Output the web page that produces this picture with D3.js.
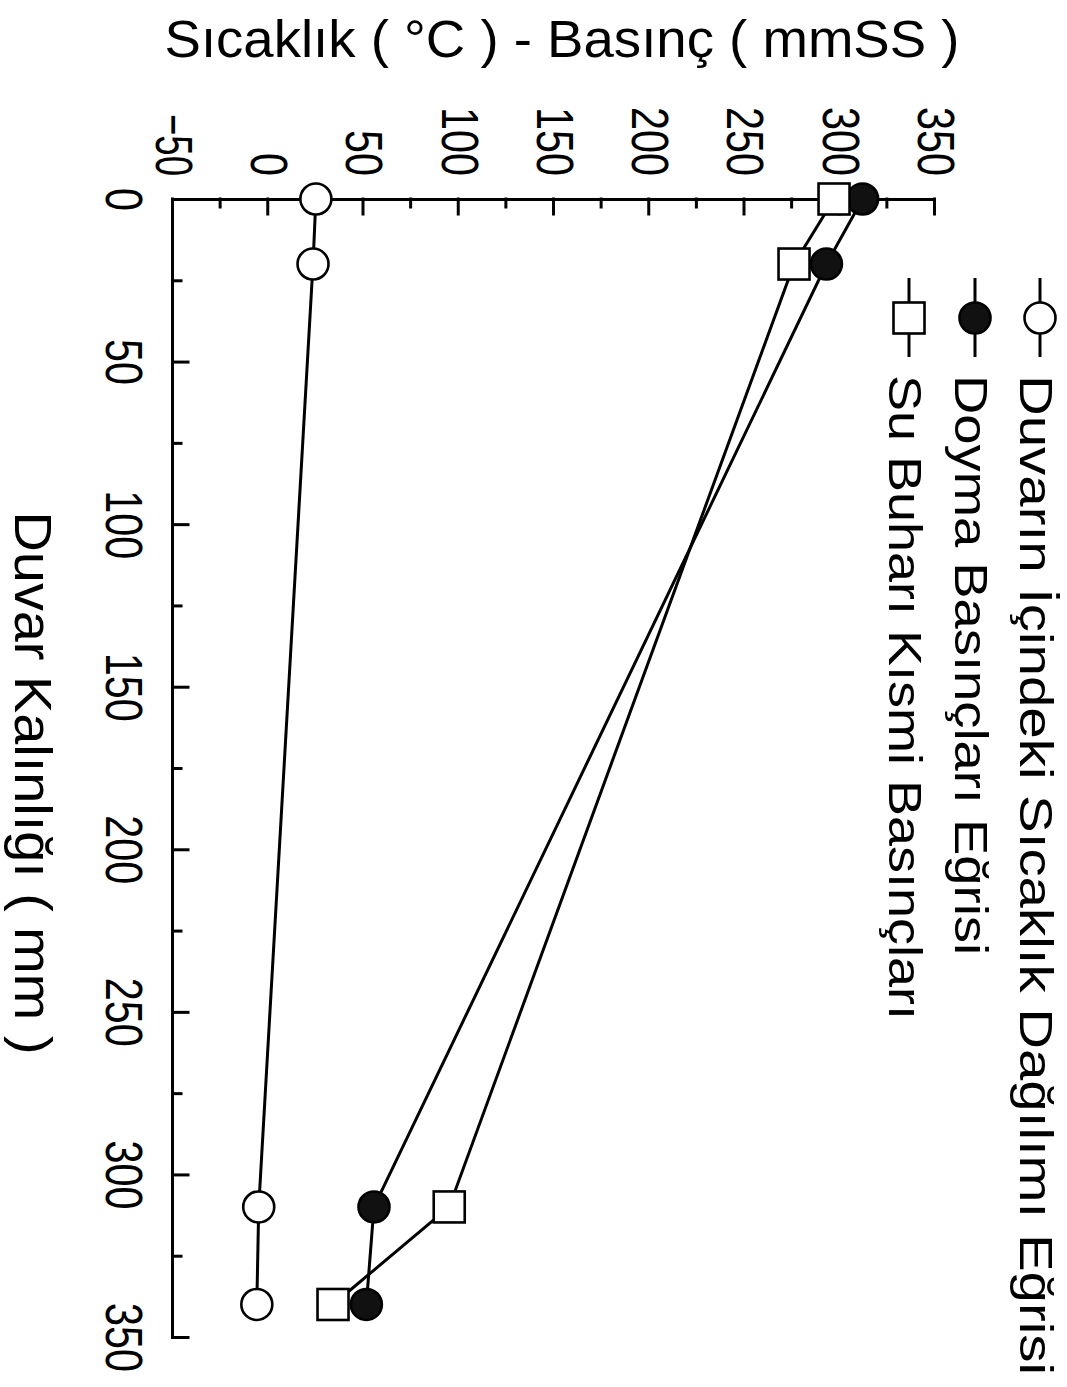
<!DOCTYPE html>
<html>
<head>
<meta charset="utf-8">
<script src="https://cdn.jsdelivr.net/npm/d3@7"></script>
<style>
  html, body { margin: 0; padding: 0; background: #fff; }
  svg { display: block; }
</style>
</head>
<body>
<script>
// wall thickness (mm) where the values were measured
const thickness = [0, 20, 310, 340];

// series values (°C for temperature, mmSS for pressures)
const wallTemp = [25, 23.5, -5, -6];
const satPressure = [312, 293, 55.5, 51.5];
const vaporPressure = [297, 276, 95, 34];

const seriesNames = [
  "Duvarın İçindeki Sıcaklık Dağılımı Eğrisi",
  "Doyma Basınçları Eğrisi",
  "Su Buharı Kısmi Basınçları"
];

// tick labels
const xMajor = [0, 50, 100, 150, 200, 250, 300, 350];
const xMinor = [25, 75, 125, 175, 225, 275, 325];
const yMajor = [-50, 0, 50, 100, 150, 200, 250, 300, 350];
const yMinor = [-25, 25, 75, 125, 175, 225, 275, 325];

const xTitle = "Duvar Kalınlığı ( mm )";
const yTitle = "Sıcaklık ( °C ) - Basınç ( mmSS )";

const width = 1067;
const height = 1387;
const font = "'Liberation Sans', Arial, Helvetica, sans-serif";

const svg = d3.select("body")
  .append("svg")
  .attr("width", width)
  .attr("height", height);

// the whole chart is printed turned a quarter turn clockwise
const g = svg.append("g")
  .attr("transform", `translate(${width},0) rotate(90)`)
  .attr("font-family", font);

const x = d3.scaleLinear().domain([0, 350]).range([199, 1337]);
const y = d3.scaleLinear().domain([-50, 350]).range([894, 132]);

const labelWidth = d => String(d).replace("-", "").length * 23 + (d < 0 ? 16 : 0);

// x axis (thickness)
const gx = g.append("g")
  .attr("transform", `translate(0,${y(-50)})`)
  .call(d3.axisBottom(x).tickValues(xMajor).tickSizeInner(-15).tickSizeOuter(0).tickPadding(30));

g.append("g")
  .attr("transform", `translate(0,${y(-50)})`)
  .call(d3.axisBottom(x).tickValues(xMinor).tickSize(-8).tickFormat(""))
  .call(a => a.select(".domain").remove());

// y axis (temperature / pressure)
const gy = g.append("g")
  .attr("transform", `translate(${x(0)},0)`)
  .call(d3.axisLeft(y).tickValues(yMajor).tickSizeInner(-15).tickSizeOuter(0).tickPadding(23));

g.append("g")
  .attr("transform", `translate(${x(0)},0)`)
  .call(d3.axisLeft(y).tickValues(yMinor).tickSize(-8).tickFormat(""))
  .call(a => a.select(".domain").remove());

g.selectAll(".domain, .tick line")
  .attr("stroke", "#000")
  .attr("stroke-width", 3)
  .attr("stroke-linecap", "square");

[gx, gy].forEach(ax => {
  ax.selectAll(".tick text")
    .attr("font-family", font)
    .attr("font-size", 52)
    .attr("fill", "#000")
    .attr("textLength", d => labelWidth(d))
    .attr("lengthAdjust", "spacingAndGlyphs");
});

// axis titles
g.append("text")
  .attr("x", 783)
  .attr("y", 1052)
  .attr("text-anchor", "middle")
  .attr("font-size", 51)
  .attr("textLength", 543)
  .attr("lengthAdjust", "spacingAndGlyphs")
  .text(xTitle);

g.append("text")
  .attr("transform", `translate(57,${1067 - 562})rotate(-90)`)
  .attr("text-anchor", "middle")
  .attr("font-size", 51)
  .attr("textLength", 795)
  .attr("lengthAdjust", "spacingAndGlyphs")
  .text(yTitle);

// series
const series = [
  { name: seriesNames[0], values: wallTemp, symbol: "circle", fill: "#fff" },
  { name: seriesNames[1], values: satPressure, symbol: "circle", fill: "#111" },
  { name: seriesNames[2], values: vaporPressure, symbol: "square", fill: "#fff" }
];

const line = d3.line()
  .x(d => x(d.t))
  .y(d => y(d.v));

function drawMarker(sel, s) {
  if (s.symbol === "circle") {
    sel.append("circle")
      .attr("r", 15.5)
      .attr("fill", s.fill)
      .attr("stroke", "#000")
      .attr("stroke-width", 2.6);
  } else {
    sel.append("rect")
      .attr("x", -15.5)
      .attr("y", -15.5)
      .attr("width", 31)
      .attr("height", 31)
      .attr("fill", s.fill)
      .attr("stroke", "#000")
      .attr("stroke-width", 2.6);
  }
}

series.forEach(s => {
  const pts = thickness.map((t, i) => ({ t: t, v: s.values[i] }));
  g.append("path")
    .datum(pts)
    .attr("fill", "none")
    .attr("stroke", "#000")
    .attr("stroke-width", 3)
    .attr("d", line);
});

series.forEach(s => {
  const pts = thickness.map((t, i) => ({ t: t, v: s.values[i] }));
  g.selectAll(null)
    .data(pts)
    .enter()
    .append("g")
    .attr("transform", d => `translate(${x(d.t)},${y(d.v)})`)
    .each(function () { drawMarker(d3.select(this), s); });
});

// legend
const legendRows = [27, 92, 158];
const legendText = [1000, 580, 645];

series.forEach((s, i) => {
  const row = g.append("g").attr("transform", `translate(0,${legendRows[i]})`);
  row.append("line")
    .attr("x1", 278).attr("x2", 357)
    .attr("stroke", "#000")
    .attr("stroke-width", 3);
  drawMarker(row.append("g").attr("transform", "translate(318,0)"), s);
  row.append("text")
    .attr("x", 375)
    .attr("y", 20)
    .attr("font-size", 46)
    .attr("textLength", legendText[i])
    .attr("lengthAdjust", "spacingAndGlyphs")
    .text(s.name);
});
</script>
</body>
</html>
